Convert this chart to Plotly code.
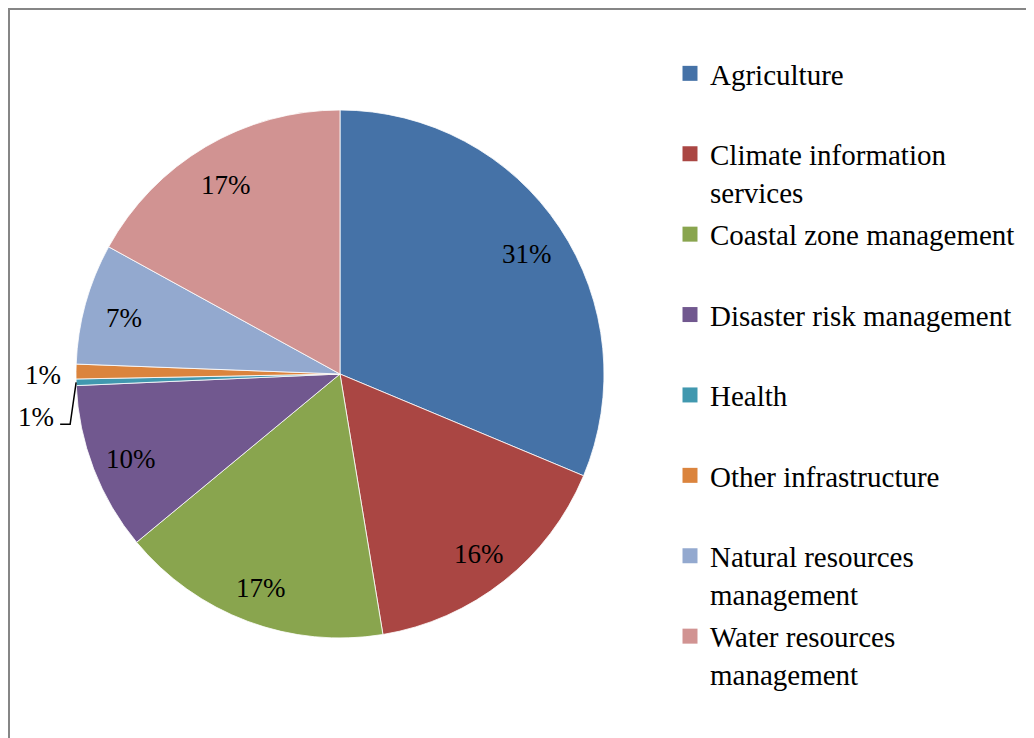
import math
import plotly.graph_objects as go

W, H = 1034, 738
OFF = 8  # page body margin offset

categories = ["Agriculture", "Climate information services", "Coastal zone management",
              "Disaster risk management", "Health", "Other infrastructure",
              "Natural resources management", "Water resources management"]
legend_labels = ["Agriculture", "Climate information<br>services", "Coastal zone management",
                 "Disaster risk management", "Health", "Other infrastructure",
                 "Natural resources<br>management", "Water resources<br>management"]
values = [31.3, 16.1, 16.6, 10.3, 0.4, 0.9, 7.4, 17.0]
pct_labels = ["31%", "16%", "17%", "10%", "1%", "1%", "7%", "17%"]
colors = ["#4572A7", "#AA4643", "#89A54E", "#71588F", "#4198AF", "#DB843D", "#93A9CF", "#D19392"]

FONT = "Liberation Serif, Times New Roman, serif"
LBL_SIZE = 27
LEG_SIZE = 29

dom_x = [(76 - OFF) / W, (604 - OFF) / W]
dom_y = [1 - (638 - OFF) / H, 1 - (110 - OFF) / H]
cx = (dom_x[0] + dom_x[1]) / 2 * W
cy = (1 - (dom_y[0] + dom_y[1]) / 2) * H
R = min((dom_x[1] - dom_x[0]) * W, (dom_y[1] - dom_y[0]) * H) / 2

fig = go.Figure()
fig.add_trace(go.Pie(
    labels=categories, values=values, sort=False, direction="clockwise", rotation=0,
    marker=dict(colors=colors, line=dict(color="white", width=0.8)),
    textinfo="none", hoverinfo="label+percent", showlegend=False,
    domain=dict(x=dom_x, y=dom_y),
))

# legend via proxy entries
for lab, col in zip(legend_labels, colors):
    txt = lab if "<br>" in lab else lab + "<br>\u00a0"
    fig.add_trace(go.Scatter(x=[None], y=[None], mode="markers", name=txt, legendgroup=lab,
                             marker=dict(symbol="square", size=15, color=col)))

total = sum(values)
cum = 0.0
annotations = []
shapes = []
for i, (v, t) in enumerate(zip(values, pct_labels)):
    mid = (cum + v / 2) / total * 2 * math.pi
    cum += v
    lf = dict(family=FONT, size=LBL_SIZE, color="black")
    if categories[i] == "Health":
        ex = cx + R * math.sin(mid)
        ey = cy - R * math.cos(mid)
        p1 = (ex - 6, ey + 42)
        p2 = (p1[0] - 10, p1[1])
        path = f"M {ex/W},{1-ey/H} L {p1[0]/W},{1-p1[1]/H} L {p2[0]/W},{1-p2[1]/H}"
        shapes.append(dict(type="path", xref="paper", yref="paper", path=path,
                           line=dict(color="black", width=1.5)))
        annotations.append(dict(x=(p2[0] - 4) / W, y=1 - (p2[1] - 7) / H, text=t, showarrow=False,
                                xanchor="right", yanchor="middle", xref="paper", yref="paper", font=lf))
    elif categories[i] == "Other infrastructure":
        ex = cx + R * math.sin(mid)
        ey = cy - R * math.cos(mid)
        annotations.append(dict(x=(ex - 13) / W, y=1 - (ey + 3) / H, text=t, showarrow=False,
                                xanchor="right", yanchor="middle", xref="paper", yref="paper", font=lf))
    else:
        rr = 0.85 * R
        px = cx + rr * math.sin(mid)
        py = cy - rr * math.cos(mid) + 4
        annotations.append(dict(x=px / W, y=1 - py / H, text=t, showarrow=False,
                                xanchor="center", yanchor="middle", xref="paper", yref="paper", font=lf))

shapes.append(dict(type="rect", xref="paper", yref="paper", x0=1 / W, x1=1.05, y0=-0.05, y1=1 - 1 / H,
                   line=dict(color="#868686", width=2), fillcolor="rgba(0,0,0,0)", layer="below"))

fig.update_layout(
    width=W, height=H, margin=dict(l=0, r=0, t=0, b=0),
    paper_bgcolor="white", plot_bgcolor="white",
    xaxis=dict(visible=False), yaxis=dict(visible=False),
    font=dict(family=FONT, size=LBL_SIZE, color="black"),
    legend=dict(x=(710 - 40 - OFF) / W, y=1 - 40 / H, xanchor="left", yanchor="top",
                font=dict(family=FONT, size=LEG_SIZE, color="black"),
                valign="top", tracegroupgap=2, bgcolor="rgba(0,0,0,0)"),
    annotations=annotations, shapes=shapes,
)

fig.write_html("out.html")
